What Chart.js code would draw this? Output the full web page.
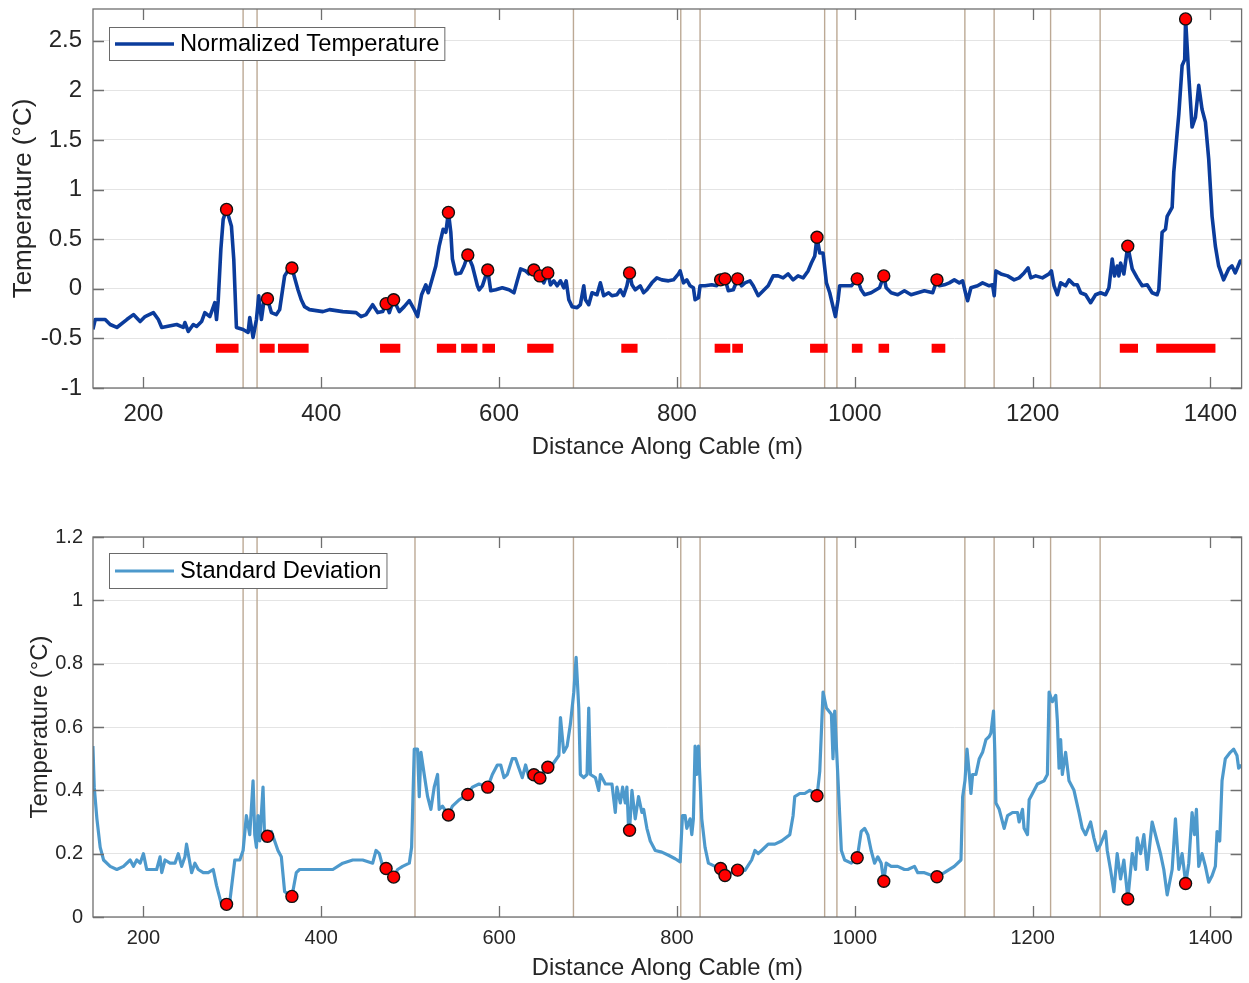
<!DOCTYPE html>
<html><head><meta charset="utf-8">
<script src="https://cdn.jsdelivr.net/npm/chart.js@4.4.1/dist/chart.umd.min.js"></script>
<style>
html,body{margin:0;padding:0;background:#fff;width:1249px;height:983px;overflow:hidden}
canvas{position:absolute;left:0}
#top{top:0}
#bot{top:490px}
</style></head><body>
<canvas id="top" width="1249" height="490"></canvas>
<canvas id="bot" width="1249" height="493"></canvas>
<script>
// ---- axes / ticks ----
const xTicks = [200, 400, 600, 800, 1000, 1200, 1400];
const yTicksTop = [-1, -0.5, 0, 0.5, 1, 1.5, 2, 2.5];
const yTicksBot = [0, 0.2, 0.4, 0.6, 0.8, 1, 1.2];
const xMin = 143.3, xMax = 1435;
const yTopMin = -1, yTopMax = 2.82;
const yBotMin = 0, yBotMax = 1.2;

// ---- vertical reference lines (m) ----
const vlineX = [312.1, 327.8, 505.4, 683.6, 804.3, 826.0, 966.1, 979.9, 1123.8, 1156.7, 1220.2, 1275.9];

// ---- highlighted points ----
const markerX = [293.5, 339.5, 367.0, 472.9, 481.4, 543.0, 564.8, 587.2, 639.1, 645.9, 654.8, 746.7, 849.1, 854.0, 868.2, 957.5, 1002.7, 1032.6, 1092.4, 1307.0, 1372.0];
const markerTemp = [0.80, -0.10, 0.21, -0.15, -0.11, 0.77, 0.34, 0.19, 0.19, 0.13, 0.16, 0.16, 0.09, 0.10, 0.10, 0.52, 0.10, 0.13, 0.09, 0.43, 2.72];
const markerStd = [0.04, 0.255, 0.065, 0.153, 0.126, 0.322, 0.387, 0.41, 0.449, 0.439, 0.473, 0.274, 0.153, 0.131, 0.148, 0.383, 0.187, 0.113, 0.127, 0.057, 0.106];

// ---- red segments ----
const barStart = [281.5, 330.8, 351.3, 466.1, 530.0, 557.3, 581.2, 631.6, 737.4, 842.4, 862.2, 949.7, 996.7, 1026.7, 1086.4, 1298.0, 1339.0];
const barEnd = [307.0, 347.6, 385.8, 488.9, 551.7, 575.6, 595.4, 661.2, 755.7, 860.0, 874.2, 969.5, 1008.7, 1038.6, 1101.8, 1318.5, 1405.6];
const barLevel = -0.6;

// ---- Normalized Temperature ----
const tempDist = [
 143.2,145.8,157.0,162.6,170.1,181.3,188.8,196.3,201.9,211.2,
 216.8,220.6,226.2,237.4,244.8,246.7,250.4,256.1,259.8,265.4,
 269.1,274.7,280.3,282.2,284.1,287.1,289.7,293.5,299.0,301.6,
 304.6,312.1,317.7,319.6,323.3,327.1,329.7,332.7,336.4,339.5,
 343.9,349.5,353.2,358.8,364.4,367.0,373.8,377.5,381.2,386.8,
 401.8,409.3,424.2,439.2,444.8,450.4,457.8,463.5,469.1,472.9,
 476.5,481.4,487.7,493.3,499.0,504.6,508.3,512.8,517.6,520.3,
 525.1,528.8,532.6,537.1,540.1,543.0,545.7,547.5,551.3,556.9,
 560.6,564.8,570.0,575.6,577.5,581.2,587.2,590.6,596.2,603.6,
 611.1,616.7,620.4,624.2,629.8,633.5,639.1,645.9,650.3,654.8,
 657.8,661.5,665.3,669.0,672.7,675.4,678.4,682.1,687.7,691.4,
 695.2,697.1,700.8,704.5,710.1,713.9,717.6,723.2,726.9,732.5,
 736.3,740.0,743.7,746.7,749.4,753.1,758.7,762.5,766.2,771.8,
 777.4,783.0,790.5,796.1,801.7,803.6,807.3,811.1,814.8,818.5,
 820.4,824.2,826.0,831.6,839.1,844.7,849.1,854.0,857.8,863.4,
 868.2,872.7,876.5,882.1,885.8,891.4,897.0,902.6,908.2,913.8,
 919.4,925.0,930.6,936.2,941.9,947.5,951.2,955.0,957.5,960.6,
 964.3,968.1,971.8,975.5,978.2,981.2,983.0,988.6,996.1,1002.7,
 1007.2,1011.0,1018.4,1024.0,1027.8,1032.6,1035.3,1040.9,1048.3,1055.8,
 1063.3,1070.8,1078.3,1087.6,1092.4,1095.1,1100.7,1106.3,1111.9,1117.5,
 1121.3,1125.0,1126.9,1130.6,1138.1,1143.7,1151.2,1154.9,1156.8,1158.7,
 1164.3,1171.8,1179.2,1184.8,1190.4,1194.9,1197.9,1203.5,1211.0,1218.5,
 1221.1,1224.1,1227.8,1231.5,1237.1,1240.9,1246.5,1250.2,1254.0,1259.6,
 1265.2,1270.8,1276.4,1282.0,1285.8,1289.5,1292.1,1295.1,1297.0,1298.9,
 1302.6,1307.0,1312.0,1317.6,1323.2,1328.8,1334.4,1340.0,1341.9,1345.6,
 1349.4,1351.3,1356.9,1358.7,1362.5,1364.4,1368.1,1371.0,1372.0,1375.6,
 1379.3,1383.1,1386.8,1390.5,1394.3,1398.0,1401.8,1405.5,1409.2,1414.8,
 1420.4,1424.2,1427.9,1433.5,1435.0];
const tempVal = [
 -0.41,-0.31,-0.31,-0.36,-0.39,-0.31,-0.26,-0.33,-0.28,-0.24,
 -0.31,-0.39,-0.38,-0.36,-0.39,-0.34,-0.43,-0.36,-0.38,-0.33,
 -0.24,-0.28,-0.14,-0.31,-0.12,0.40,0.70,0.80,0.63,0.30,
 -0.39,-0.41,-0.44,-0.29,-0.49,-0.31,-0.07,-0.31,-0.07,-0.10,
 -0.24,-0.26,-0.21,0.13,0.21,0.21,-0.01,-0.11,-0.18,-0.21,
 -0.23,-0.21,-0.23,-0.24,-0.28,-0.26,-0.16,-0.24,-0.23,-0.15,
 -0.24,-0.11,-0.23,-0.18,-0.12,-0.21,-0.28,-0.06,0.04,-0.04,
 0.11,0.23,0.43,0.60,0.57,0.77,0.57,0.30,0.15,0.16,
 0.23,0.34,0.23,0.03,-0.01,0.03,0.19,-0.02,-0.01,0.01,
 -0.01,-0.04,0.08,0.20,0.18,0.15,0.19,0.13,0.06,0.16,
 0.04,0.08,0.03,0.08,0.01,0.08,-0.11,-0.18,-0.19,-0.16,
 0.03,-0.11,-0.16,-0.04,-0.06,0.06,-0.07,-0.04,-0.07,-0.06,
 -0.01,-0.07,0.03,0.16,0.04,-0.01,0.03,-0.04,-0.01,0.06,
 0.11,0.09,0.08,0.09,0.15,0.18,0.06,0.09,0.03,0.01,
 -0.11,-0.09,0.03,0.03,0.04,0.03,0.09,0.10,-0.02,-0.01,
 0.10,0.03,0.06,0.08,0.03,-0.07,-0.02,0.03,0.13,0.13,
 0.11,0.15,0.09,0.13,0.11,0.18,0.26,0.33,0.52,0.36,
 0.36,0.06,-0.04,-0.18,-0.28,-0.11,0.03,0.03,0.03,0.10,
 -0.01,-0.06,-0.04,-0.01,0.01,0.13,0.01,-0.04,-0.06,-0.02,
 -0.06,-0.04,-0.02,-0.04,0.09,0.03,0.04,0.06,0.09,0.06,
 0.08,-0.06,-0.12,0.01,0.03,0.06,0.03,0.04,-0.07,0.18,
 0.15,0.13,0.09,0.11,0.16,0.21,0.11,0.13,0.11,0.15,
 0.18,0.03,-0.06,0.06,0.03,0.09,0.04,0.04,-0.04,-0.06,
 -0.14,-0.06,-0.04,-0.06,0.01,0.30,0.13,0.23,0.13,0.26,
 0.15,0.43,0.20,0.11,0.03,0.04,-0.04,-0.06,-0.01,0.57,
 0.60,0.73,0.82,1.17,1.57,1.76,2.25,2.31,2.72,2.15,
 1.63,1.73,2.05,1.81,1.68,1.31,0.73,0.43,0.23,0.09,
 0.20,0.23,0.16,0.28,0.26];

// ---- Standard Deviation ----
const stdDist = [
 143.2,144.7,147.7,151.4,155.2,162.6,170.1,177.6,185.1,188.8,
 192.5,196.3,200.0,203.7,209.3,214.9,218.7,220.6,224.3,229.9,
 235.5,239.2,243.0,246.7,248.5,252.3,254.2,257.9,261.7,267.3,
 272.9,278.5,282.2,287.8,293.5,297.2,302.8,308.4,312.1,315.8,
 319.6,323.3,325.2,327.1,328.9,330.8,334.5,336.4,339.4,343.9,
 347.6,351.3,355.1,358.8,364.4,367.0,371.9,375.6,383.1,390.6,
 401.8,413.0,424.2,435.4,446.6,457.8,461.6,465.3,469.1,472.9,
 481.4,485.9,491.5,499.0,501.6,504.6,508.3,510.2,512.1,515.8,
 519.6,523.3,527.0,530.8,532.6,536.3,543.0,547.5,555.0,564.7,
 570.0,577.4,587.2,592.4,598.0,601.8,605.5,609.2,614.8,618.6,
 622.3,626.1,629.8,633.5,639.1,645.9,650.3,654.8,659.7,667.2,
 669.0,672.7,676.5,680.2,684.0,686.6,689.6,691.4,695.2,698.9,
 700.8,702.7,708.3,712.0,713.9,719.5,726.9,730.7,732.5,736.3,
 738.9,741.9,743.7,745.6,746.7,749.4,753.1,756.8,760.6,762.5,
 766.2,770.0,775.6,783.0,790.5,798.0,803.6,806.2,809.2,811.1,
 814.8,816.7,818.5,820.4,822.3,824.2,826.0,827.9,831.6,835.4,
 842.8,849.2,854.0,868.3,876.5,884.0,887.7,891.4,895.2,902.6,
 910.1,917.6,926.9,930.6,932.5,938.1,943.7,949.3,954.9,957.6,
 960.6,964.3,968.1,973.7,975.5,977.4,981.2,984.9,988.6,996.1,
 1002.8,1007.2,1011.0,1014.7,1018.4,1022.2,1025.9,1029.7,1032.6,1035.3,
 1040.9,1048.3,1055.8,1059.6,1067.1,1070.8,1078.3,1087.6,1092.5,1100.7,
 1111.9,1119.4,1121.3,1123.9,1126.2,1128.8,1130.6,1132.5,1136.2,1140.0,
 1143.7,1147.5,1151.2,1153.0,1156.0,1157.5,1158.7,1162.4,1168.0,1171.8,
 1177.4,1183.0,1184.8,1188.6,1190.4,1194.2,1196.1,1199.8,1205.4,1212.9,
 1216.6,1218.5,1222.2,1226.0,1227.8,1229.7,1231.5,1233.4,1237.1,1240.9,
 1246.5,1252.1,1255.8,1259.6,1265.2,1268.9,1272.7,1276.4,1282.0,1283.9,
 1287.6,1291.4,1295.1,1298.9,1302.6,1307.1,1312.0,1315.7,1317.6,1321.4,
 1325.1,1328.8,1334.4,1340.0,1343.8,1347.5,1351.3,1356.9,1360.6,1364.4,
 1368.1,1372.2,1375.6,1379.3,1382.0,1384.2,1386.8,1390.5,1394.3,1398.0,
 1401.8,1405.5,1407.4,1410.4,1413.0,1416.7,1422.3,1426.1,1429.8,1431.7,
 1435.0];
const stdVal = [
 0.54,0.41,0.31,0.22,0.18,0.16,0.15,0.16,0.18,0.16,
 0.18,0.17,0.20,0.15,0.15,0.15,0.19,0.14,0.18,0.17,
 0.17,0.20,0.16,0.19,0.23,0.17,0.14,0.17,0.15,0.14,
 0.14,0.15,0.10,0.04,0.04,0.05,0.18,0.18,0.21,0.32,
 0.26,0.43,0.26,0.22,0.32,0.24,0.41,0.24,0.255,0.27,
 0.24,0.21,0.19,0.08,0.07,0.065,0.14,0.15,0.15,0.15,
 0.15,0.15,0.17,0.18,0.18,0.17,0.21,0.20,0.16,0.153,
 0.126,0.15,0.16,0.17,0.22,0.53,0.53,0.38,0.52,0.45,
 0.38,0.34,0.41,0.45,0.34,0.35,0.322,0.35,0.37,0.387,
 0.41,0.42,0.41,0.45,0.48,0.48,0.44,0.45,0.50,0.50,
 0.47,0.44,0.48,0.44,0.449,0.439,0.46,0.473,0.48,0.51,
 0.63,0.52,0.54,0.61,0.71,0.82,0.66,0.45,0.44,0.45,
 0.66,0.45,0.44,0.40,0.45,0.42,0.42,0.33,0.41,0.36,
 0.41,0.36,0.41,0.28,0.274,0.40,0.31,0.38,0.33,0.34,
 0.28,0.24,0.21,0.205,0.195,0.184,0.174,0.32,0.32,0.28,
 0.31,0.26,0.31,0.54,0.45,0.54,0.43,0.31,0.22,0.17,
 0.16,0.153,0.131,0.148,0.147,0.18,0.21,0.20,0.21,0.23,
 0.23,0.24,0.26,0.32,0.38,0.39,0.39,0.40,0.39,0.383,
 0.46,0.71,0.66,0.64,0.50,0.65,0.43,0.21,0.18,0.17,
 0.187,0.27,0.28,0.26,0.21,0.17,0.19,0.17,0.113,0.17,
 0.16,0.16,0.15,0.15,0.16,0.14,0.14,0.13,0.127,0.14,
 0.16,0.18,0.38,0.43,0.53,0.45,0.39,0.45,0.45,0.50,
 0.52,0.56,0.57,0.58,0.65,0.52,0.36,0.34,0.28,0.32,
 0.33,0.33,0.30,0.34,0.28,0.26,0.37,0.39,0.42,0.43,
 0.45,0.71,0.68,0.70,0.62,0.47,0.56,0.45,0.52,0.43,
 0.40,0.33,0.28,0.26,0.30,0.25,0.21,0.23,0.27,0.21,
 0.15,0.08,0.20,0.12,0.18,0.057,0.20,0.15,0.25,0.20,
 0.26,0.15,0.30,0.24,0.20,0.15,0.07,0.15,0.31,0.15,
 0.20,0.106,0.17,0.33,0.26,0.34,0.16,0.20,0.16,0.11,
 0.13,0.16,0.27,0.24,0.43,0.50,0.52,0.53,0.51,0.47,
 0.48];

// ---- helpers ----
const FONT = '"Liberation Sans", Arial, Helvetica, sans-serif';
const TXT = '#262626';
const zip = (xs, ys) => xs.map((x, i) => ({x: x, y: ys[i]}));
const vlineData = (lo, hi) => vlineX.flatMap(v => [{x: v, y: lo}, {x: v, y: hi}, {x: v, y: null}]);
const barData = () => barStart.flatMap((s, i) => [{x: s, y: barLevel}, {x: barEnd[i], y: barLevel}, {x: barEnd[i], y: null}]);

const boxPlugin = {
  id: 'matlabBox',
  afterDatasetsDraw(chart) {
    const {ctx, chartArea: a, scales: {x, y}} = chart;
    ctx.save();
    ctx.strokeStyle = '#6f6f6f';
    ctx.lineWidth = 1.3;
    ctx.strokeRect(a.left, a.top, a.right - a.left, a.bottom - a.top);
    ctx.beginPath();
    const L = 11;
    x.ticks.forEach(t => {
      const px = Math.round(x.getPixelForValue(t.value)) + 0.5;
      ctx.moveTo(px, a.bottom); ctx.lineTo(px, a.bottom - L);
      ctx.moveTo(px, a.top); ctx.lineTo(px, a.top + L);
    });
    y.ticks.forEach(t => {
      const py = Math.round(y.getPixelForValue(t.value)) + 0.5;
      ctx.moveTo(a.left, py); ctx.lineTo(a.left + L, py);
      ctx.moveTo(a.right, py); ctx.lineTo(a.right - L, py);
    });
    ctx.stroke();
    ctx.restore();
  }
};

const legendPlugin = {
  id: 'boxLegend',
  afterDraw(chart, args, opts) {
    const {ctx, chartArea: a} = chart;
    const ds = chart.data.datasets[opts.index];
    ctx.save();
    ctx.font = opts.size + 'px ' + FONT;
    const tw = ctx.measureText(ds.label).width;
    const x0 = a.left + 16, y0 = a.top + opts.dy, h = opts.h;
    const w = 6 + 59 + 6 + tw + 5;
    ctx.fillStyle = '#fff';
    ctx.fillRect(x0, y0, w, h);
    ctx.strokeStyle = '#6a6a6a';
    ctx.lineWidth = 1;
    ctx.strokeRect(x0 + 0.5, y0 + 0.5, w, h);
    ctx.strokeStyle = ds.borderColor;
    ctx.lineWidth = ds.borderWidth;
    ctx.beginPath();
    ctx.moveTo(x0 + 6, y0 + h / 2 + 0.5);
    ctx.lineTo(x0 + 65, y0 + h / 2 + 0.5);
    ctx.stroke();
    ctx.fillStyle = '#000';
    ctx.textBaseline = 'middle';
    ctx.fillText(ds.label, x0 + 71, y0 + h / 2 + 1);
    ctx.restore();
  }
};

function makeChart(id, cfg) {
  const xScale = {
    type: 'linear', min: xMin, max: xMax,
    afterFit: s => { s.height = cfg.xHeight; s.paddingLeft = 0; s.paddingRight = 0; },
    afterBuildTicks: s => { s.ticks = xTicks.map(v => ({value: v})); },
    ticks: {font: {family: FONT, size: cfg.tickSize}, color: TXT, padding: cfg.xTickPad, maxRotation: 0, autoSkip: false,
            callback: v => String(v)},
    grid: {display: false, drawTicks: false},
    border: {display: false},
    title: {display: true, text: 'Distance Along Cable (m)', color: TXT,
            font: {family: FONT, size: 23.8}, padding: {top: 0, bottom: cfg.xTitlePad}}
  };
  const yScale = {
    type: 'linear', min: cfg.yMin, max: cfg.yMax,
    afterFit: s => { s.width = 93; s.paddingTop = 0; s.paddingBottom = 0; },
    afterBuildTicks: s => { s.ticks = cfg.yTicks.map(v => ({value: v})); },
    ticks: {font: {family: FONT, size: cfg.tickSize}, color: TXT, padding: cfg.yTickPad, includeBounds: false,
            callback: v => String(v)},
    grid: {color: '#e4e4e4', lineWidth: 1, drawTicks: false},
    border: {display: false},
    title: {display: true, text: 'Temperature (°C)', color: TXT,
            font: {family: FONT, size: cfg.yTitleSize}, padding: {top: cfg.yTitlePad, bottom: 0}}
  };
  return new Chart(document.getElementById(id), {
    type: 'line',
    data: {datasets: cfg.datasets},
    options: {
      responsive: false, animation: false, devicePixelRatio: 1,
      layout: {padding: {left: 0, right: 5, top: cfg.padTop, bottom: 0}},
      plugins: {legend: {display: false}, tooltip: {enabled: false},
                boxLegend: {index: 1, size: 23.7, dy: cfg.legDy, h: cfg.legH}},
      scales: {x: xScale, y: yScale},
      elements: {line: {tension: 0}}
    },
    plugins: [boxPlugin, legendPlugin]
  });
}

const markerDs = ys => ({label: 'markers', data: zip(markerX, ys), showLine: false, pointRadius: 6,
  pointBackgroundColor: '#ff0000', pointBorderColor: '#111', pointBorderWidth: 1.4, borderColor: '#ff0000'});
const vlineDs = (lo, hi) => ({label: 'vlines', data: vlineData(lo, hi), borderColor: '#bca995', borderWidth: 1.4,
  pointRadius: 0, spanGaps: false});

makeChart('top', {
  xHeight: 102, padTop: 9, tickSize: 24, xTickPad: 12, yTickPad: 11, xTitlePad: 28,
  yTitleSize: 26, yTitlePad: 8, yMin: yTopMin, yMax: yTopMax, yTicks: yTicksTop,
  legDy: 18, legH: 33,
  datasets: [
    markerDs(markerTemp),
    {label: 'Normalized Temperature', data: zip(tempDist, tempVal), borderColor: '#0b3c9c', backgroundColor: '#0b3c9c',
     borderWidth: 3.6, pointRadius: 0, borderJoinStyle: 'round'},
    {label: 'segments', data: barData(), borderColor: '#ff0000', borderWidth: 9, borderCapStyle: 'butt',
     pointRadius: 0, spanGaps: false},
    vlineDs(yTopMin, yTopMax)
  ]
});

makeChart('bot', {
  xHeight: 66, padTop: 47, tickSize: 20, xTickPad: 9, yTickPad: 10, xTitlePad: 0,
  yTitleSize: 23.8, yTitlePad: 26, yMin: yBotMin, yMax: yBotMax, yTicks: yTicksBot,
  legDy: 16, legH: 35,
  datasets: [
    markerDs(markerStd),
    {label: 'Standard Deviation', data: zip(stdDist, stdVal), borderColor: '#4d99cc', backgroundColor: '#4d99cc',
     borderWidth: 3.2, pointRadius: 0, borderJoinStyle: 'round'},
    vlineDs(yBotMin, yBotMax)
  ]
});
</script>
</body></html>
